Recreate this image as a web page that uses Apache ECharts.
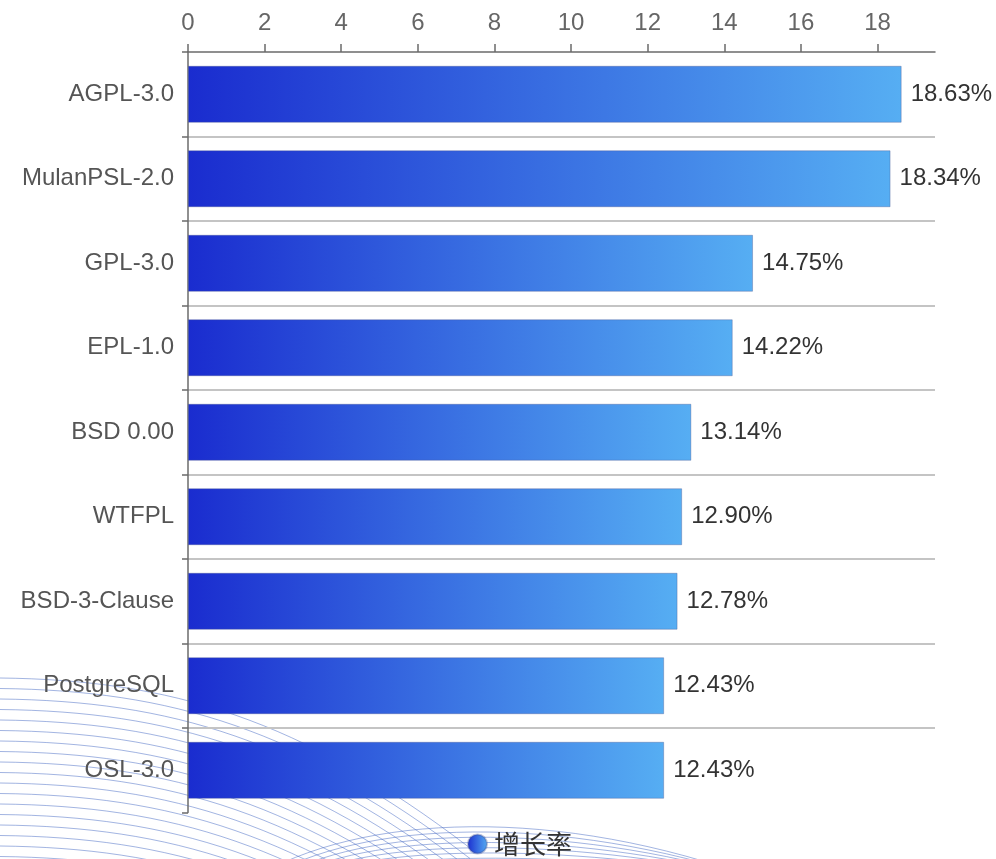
<!DOCTYPE html>
<html>
<head>
<meta charset="utf-8">
<script src="https://cdn.jsdelivr.net/npm/echarts@6/dist/echarts.min.js"></script>
<style>
  html, body { margin: 0; padding: 0; background: #fff; }
  #chart { width: 996px; height: 859px; }
</style>
</head>
<body>
<div id="chart"></div>
<script>
// License growth rates (%)
const categories = ['AGPL-3.0', 'MulanPSL-2.0', 'GPL-3.0', 'EPL-1.0', 'BSD 0.00', 'WTFPL', 'BSD-3-Clause', 'PostgreSQL', 'OSL-3.0'];
const growthRates = [18.63, 18.34, 14.75, 14.22, 13.14, 12.90, 12.78, 12.43, 12.43];
const xTicks = [0, 2, 4, 6, 8, 10, 12, 14, 16, 18];
const seriesName = '增长率';

const FONT = '"Liberation Sans", Arial, Helvetica, sans-serif';

// Decorative wave strokes in the lower-left corner
function waveLines() {
  const children = [];
  const stroke = 'rgba(70,105,195,0.5)';
  for (let y0 = 678; y0 < 990; y0 += 10.5) {
    children.push({
      type: 'bezierCurve',
      shape: { x1: 0, y1: y0, cpx1: 170, cpy1: y0 + 2, cpx2: 300, cpy2: y0 + 40, x2: 470, y2: y0 + 170 },
      style: { stroke: stroke, lineWidth: 1, fill: null }
    });
  }
  for (let k = 0; k < 7; k++) {
    children.push({
      type: 'bezierCurve',
      shape: { x1: 250 + k * 12, y1: 880, cpx1: 360, cpy1: 812 + k * 7, cpx2: 560, cpy2: 806 + k * 7, x2: 760, y2: 880 },
      style: { stroke: stroke, lineWidth: 1, fill: null }
    });
  }
  return children;
}

// Band separators: the top one sits under the axis line, the bottom one is left out
const gridGray = '#c4c4c4';
const separatorColors = ['rgba(0,0,0,0)'].concat(categories.slice(1).map(() => gridGray), ['rgba(0,0,0,0)']);

const chart = echarts.init(document.getElementById('chart'), null, { renderer: 'canvas' });

chart.setOption({
  backgroundColor: '#ffffff',
  animation: false,
  textStyle: { fontFamily: FONT },
  graphic: [{
    type: 'group',
    silent: true,
    z: -10,
    children: waveLines()
  }],
  grid: { left: 188, right: 61, top: 52, bottom: 46.5, containLabel: false },
  legend: {
    top: 826,
    left: 462,
    icon: 'circle',
    itemWidth: 19,
    itemHeight: 19,
    itemGap: 10,
    textStyle: { fontSize: 26, color: '#333', padding: [0, 0, 0, 2], fontFamily: '"Noto Sans CJK SC", sans-serif' },
    data: [seriesName]
  },
  xAxis: {
    type: 'value',
    position: 'top',
    min: 0,
    max: 19.5,
    axisLine: { show: true, lineStyle: { color: '#6b6b6b', width: 1.5 } },
    axisTick: { show: true, length: 8, customValues: xTicks, lineStyle: { color: '#6b6b6b', width: 1.5 } },
    axisLabel: { customValues: xTicks, fontSize: 24, color: '#666', margin: 17, fontFamily: FONT },
    splitLine: { show: false }
  },
  yAxis: {
    type: 'category',
    inverse: true,
    data: categories,
    axisLine: { show: true, lineStyle: { color: '#6b6b6b', width: 1.5 } },
    axisTick: { show: true, length: 6, lineStyle: { color: '#6b6b6b', width: 1.5 } },
    axisLabel: { fontSize: 24, color: '#555', margin: 14, fontFamily: FONT },
    splitLine: { show: true, lineStyle: { color: separatorColors, width: 2 } }
  },
  series: [{
    name: seriesName,
    type: 'bar',
    data: growthRates,
    barWidth: 57,
    itemStyle: {
      color: new echarts.graphic.LinearGradient(0, 0, 1, 0, [
        { offset: 0, color: '#1a2ccf' },
        { offset: 1, color: '#56aef3' }
      ]),
      borderColor: 'rgba(70,80,140,0.35)',
      borderWidth: 1
    },
    label: {
      show: true,
      position: 'right',
      distance: 9,
      fontSize: 24,
      color: '#333',
      fontFamily: FONT,
      formatter: p => p.value.toFixed(2) + '%'
    }
  }]
});
</script>
</body>
</html>
